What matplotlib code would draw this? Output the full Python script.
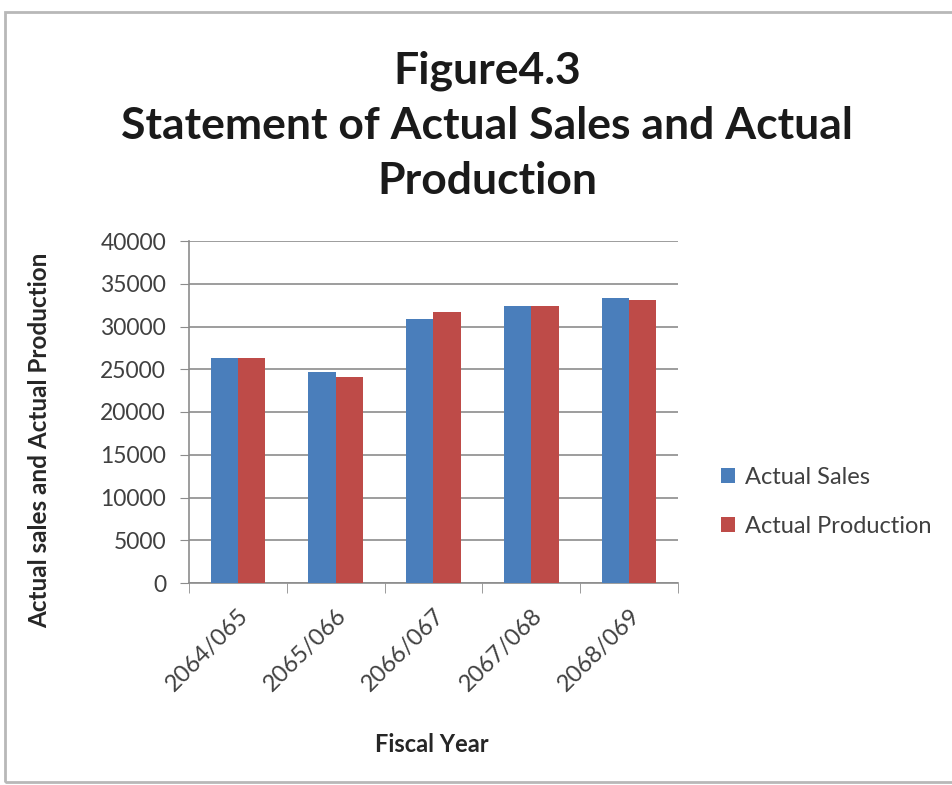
import matplotlib
matplotlib.use("Agg")
import matplotlib.pyplot as plt
from matplotlib.patches import Rectangle
import numpy as np

fiscal_years = ["2064/065", "2065/066", "2066/067", "2067/068", "2068/069"]
actual_sales = [26300, 24630, 30930, 32450, 33350]
actual_production = [26330, 24090, 31750, 32340, 33150]

plt.rcParams['font.family'] = ['Lato', 'DejaVu Sans']

fig = plt.figure(figsize=(9.52, 7.85), dpi=100)
fig.patch.set_facecolor("white")

# light frame around the chart
fig.patches.append(Rectangle((5 / 952, 3 / 785), 1.2, 1 - 15 / 785,
                             transform=fig.transFigure, fill=False,
                             edgecolor="#b8b8b8", linewidth=2.0))

ax = fig.add_axes([189 / 952, 1 - 583 / 785, (678 - 189) / 952, (583 - 241) / 785])

x = np.arange(len(fiscal_years))
w = 0.28
ax.bar(x - w / 2, actual_sales, width=w, color="#4a7ebb", label="Actual Sales", zorder=3)
ax.bar(x + w / 2, actual_production, width=w, color="#be4b48", label="Actual Production", zorder=3)

ax.set_xlim(-0.5, len(fiscal_years) - 0.5)
ax.set_ylim(0, 40000)
ax.set_yticks(np.arange(0, 40001, 5000))
ax.yaxis.grid(True, color="#8c8c8c", linewidth=1.2, zorder=0)
ax.set_axisbelow(True)

for s in ["top", "right"]:
    ax.spines[s].set_visible(False)
for s in ["left", "bottom"]:
    ax.spines[s].set_color("#8c8c8c")
    ax.spines[s].set_linewidth(1.2)

ax.tick_params(axis="y", direction="out", length=6.5, color="#8c8c8c",
               labelsize=16.5, labelcolor="#404040", pad=10)
ax.set_xticks(x)
ax.set_xticklabels(fiscal_years, rotation=45, ha="right", rotation_mode="anchor",
                   fontsize=17, color="#404040")
ax.tick_params(axis="x", length=0, pad=16)
ax.set_xticks(np.arange(-0.5, len(fiscal_years)), minor=True)
ax.tick_params(axis="x", which="minor", direction="out", length=7, color="#8c8c8c")

fig.text(40 / 952, 1 - 440 / 785, "Actual sales and Actual Production", rotation=90,
         ha="center", va="center", fontsize=17.5, fontweight="bold", color="#262626")
fig.text(432 / 952, 1 - 744 / 785, "Fiscal Year", ha="center", va="center",
         fontsize=17, fontweight="bold", color="#262626")

fig.text(487 / 952, 1 - 126 / 785, "Figure4.3\nStatement of Actual Sales and Actual\nProduction",
         ha="center", va="center", fontsize=32, fontweight="bold", color="#1a1a1a",
         linespacing=1.45)

leg = ax.legend(loc="center left", bbox_to_anchor=(700 / 952, 1 - 502 / 785),
                bbox_transform=fig.transFigure, frameon=False, fontsize=17,
                handlelength=0.6, handleheight=0.6, handletextpad=0.4,
                labelspacing=1.2)
for t in leg.get_texts():
    t.set_color("#404040")

fig.savefig("out.png", dpi=100, facecolor="white")
